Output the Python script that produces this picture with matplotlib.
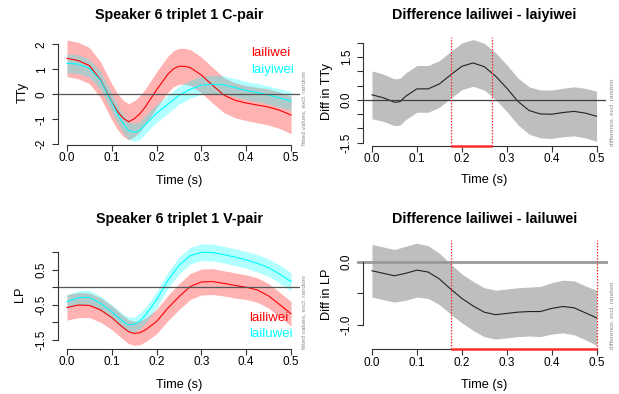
import numpy as np
import matplotlib
matplotlib.use("Agg")
import matplotlib.pyplot as plt

plt.rcParams['font.family'] = ['Liberation Sans', 'DejaVu Sans']
plt.rcParams['axes.unicode_minus'] = False

# ---------------- data ----------------
# Panel 1: TTy, C-pair
time_c = [0.0, 0.025, 0.05, 0.075, 0.1, 0.1125, 0.125, 0.1375, 0.15, 0.1625, 0.175,
          0.2, 0.225, 0.2375, 0.25, 0.2625, 0.275, 0.3, 0.325, 0.35, 0.375, 0.4,
          0.425, 0.45, 0.475, 0.5]
tty_lailiwei = [1.44, 1.35, 1.15, 0.58, -0.30, -0.68, -0.95, -1.10, -0.98, -0.78, -0.50,
                0.18, 0.80, 1.02, 1.12, 1.12, 1.07, 0.77, 0.36, -0.03, -0.24, -0.35,
                -0.43, -0.51, -0.64, -0.83]
tty_lailiwei_ci = [0.73, 0.73, 0.72, 0.72, 0.72, 0.72, 0.72, 0.72, 0.72, 0.72, 0.72,
                   0.72, 0.72, 0.72, 0.72, 0.72, 0.72, 0.72, 0.71, 0.70, 0.70, 0.70,
                   0.71, 0.72, 0.73, 0.75]
tty_laiyiwei = [1.24, 1.21, 1.04, 0.55, -0.33, -0.78, -1.16, -1.45, -1.52, -1.45, -1.20,
                -0.76, -0.40, -0.22, -0.04, 0.08, 0.20, 0.36, 0.40, 0.38, 0.27, 0.15,
                0.07, -0.03, -0.15, -0.27]
tty_laiyiwei_ci = [0.38, 0.37, 0.36, 0.36, 0.36, 0.36, 0.36, 0.36, 0.36, 0.36, 0.36,
                   0.36, 0.36, 0.36, 0.36, 0.36, 0.36, 0.36, 0.36, 0.36, 0.36, 0.36,
                   0.36, 0.36, 0.37, 0.38]

# Panel 2: difference lailiwei - laiyiwei (TTy)
time_cd = [0.0, 0.025, 0.05, 0.0625, 0.075, 0.1, 0.125, 0.15, 0.175, 0.2, 0.225, 0.25,
           0.275, 0.3, 0.325, 0.35, 0.375, 0.4, 0.425, 0.45, 0.475, 0.5]
tty_diff = [0.18, 0.08, -0.08, -0.06, 0.13, 0.39, 0.39, 0.56, 0.88, 1.18, 1.30, 1.17,
            0.84, 0.42, -0.05, -0.37, -0.49, -0.50, -0.44, -0.40, -0.46, -0.57]
tty_diff_ci = [0.84, 0.83, 0.82, 0.82, 0.82, 0.82, 0.82, 0.82, 0.82, 0.82, 0.82, 0.82,
               0.82, 0.82, 0.82, 0.83, 0.84, 0.85, 0.85, 0.86, 0.87, 0.88]
tty_sig = [0.177, 0.268]

# Panel 3: LP, V-pair
time_v = [0.0, 0.025, 0.05, 0.075, 0.1, 0.125, 0.1375, 0.15, 0.1625, 0.175, 0.2, 0.225,
          0.25, 0.275, 0.3, 0.325, 0.35, 0.375, 0.4, 0.425, 0.45, 0.475, 0.5]
lp_lailiwei = [-0.58, -0.51, -0.52, -0.65, -0.87, -1.15, -1.27, -1.32, -1.30, -1.22,
               -0.98, -0.60, -0.27, 0.02, 0.15, 0.16, 0.11, 0.05, 0.00, -0.08, -0.25,
               -0.50, -0.76]
lp_lailiwei_ci = [0.36, 0.36, 0.35, 0.35, 0.34, 0.34, 0.34, 0.34, 0.34, 0.34, 0.35,
                  0.36, 0.37, 0.37, 0.37, 0.37, 0.36, 0.36, 0.35, 0.35, 0.35, 0.35, 0.35]
lp_lailuwei = [-0.41, -0.30, -0.29, -0.46, -0.70, -0.98, -1.07, -1.06, -0.97, -0.80,
               -0.36, 0.19, 0.62, 0.90, 1.00, 0.99, 0.93, 0.86, 0.78, 0.68, 0.56,
               0.37, 0.16]
lp_lailuwei_ci = [0.20, 0.20, 0.20, 0.20, 0.20, 0.21, 0.21, 0.21, 0.22, 0.22, 0.23,
                  0.23, 0.24, 0.24, 0.24, 0.24, 0.24, 0.24, 0.24, 0.25, 0.25, 0.26, 0.26]

# Panel 4: difference lailiwei - lailuwei (LP)
time_vd = [0.0, 0.025, 0.05, 0.075, 0.1, 0.125, 0.15, 0.175, 0.2, 0.225, 0.25,
           0.275, 0.3, 0.325, 0.35, 0.375, 0.4, 0.425, 0.45, 0.475, 0.5]
lp_diff = [-0.14, -0.18, -0.22, -0.18, -0.13, -0.16, -0.27, -0.43, -0.58, -0.70, -0.80,
           -0.84, -0.82, -0.80, -0.79, -0.79, -0.74, -0.71, -0.73, -0.81, -0.89]
lp_diff_ci = [0.42, 0.42, 0.42, 0.43, 0.43, 0.42, 0.41, 0.40, 0.39, 0.39, 0.39,
              0.39, 0.39, 0.39, 0.39, 0.40, 0.41, 0.42, 0.43, 0.43, 0.44]
lp_sig = [0.176, 0.5]

xticks = [0.0, 0.1, 0.2, 0.3, 0.4, 0.5]

# ---------------- figure ----------------
W, H = 619, 394
fig = plt.figure(figsize=(W / 100, H / 100), dpi=100)

AX_COL = '#333333'
TICK_FS = 8.5
LAB_FS = 9.2
TITLE_FS = 10.3
LEG_FS = 9.5
NOTE_FS = 4.6


def make_ax(l, r, t, b, ylim):
    ax = fig.add_axes([l / W, 1 - b / H, (r - l) / W, (b - t) / H])
    ax.set_xlim(-0.02, 0.52)
    ax.set_ylim(*ylim)
    ax.patch.set_alpha(0)
    for s in ['top', 'right']:
        ax.spines[s].set_visible(False)
    for s in ['left', 'bottom']:
        ax.spines[s].set_color(AX_COL)
        ax.spines[s].set_linewidth(0.8)
    ax.tick_params(length=4.3, width=0.8, color=AX_COL, labelsize=TICK_FS,
                   labelcolor='black')
    ax.tick_params(axis='x', pad=1.0)
    ax.tick_params(axis='y', pad=3.2)
    ax.set_xticks(xticks)
    ax.set_xticklabels(['%.1f' % v for v in xticks])
    ax.spines['bottom'].set_bounds(0.0, 0.5)
    return ax


def set_y(ax, ticks, labels):
    ax.set_yticks(ticks)
    ax.set_yticklabels(labels)
    ax.spines['left'].set_bounds(min(ticks), max(ticks))
    for lab in ax.get_yticklabels():
        lab.set_rotation(90)
        lab.set_va('center')


def labels(ax, ylab, ylab_x, title, title_y, xlab_y, note, note_x_px):
    ax.set_ylabel(ylab, fontsize=LAB_FS, va='center')
    ax.yaxis.set_label_coords(ylab_x, 0.5)
    ax.set_xlabel('Time (s)', fontsize=LAB_FS, va='center')
    ax.xaxis.set_label_coords(0.5, xlab_y)
    ax.text(0.5, title_y, title, transform=ax.transAxes, ha='center', va='center',
            fontsize=TITLE_FS, fontweight='bold')
    bb = ax.get_position()
    fig.text(note_x_px / W, bb.y0, note, rotation=90, ha='center', va='bottom',
             fontsize=NOTE_FS, color='#8a8a8a')


def band(ax, tt, m, ci, color, alpha):
    tt = np.array(tt)
    m = np.array(m)
    ci = np.array(ci)
    ax.fill_between(tt, m - ci, m + ci, color=color, alpha=alpha, linewidth=0)
    ax.plot(tt, m, color=color, lw=0.8)


def diffband(ax, tt, m, ci):
    tt = np.array(tt)
    m = np.array(m)
    ci = np.array(ci)
    ax.fill_between(tt, m - ci, m + ci, color='#bebebe', linewidth=0)
    ax.plot(tt, m, color='#222222', lw=0.8)


def sig(ax, interval):
    for x in interval:
        ax.axvline(x, color='#ff2a2a', ls=(0, (1.2, 1.2)), lw=0.9, zorder=4)
    ax.plot(interval, [ax.get_ylim()[0]] * 2, color='#ff3030', lw=1.8,
            solid_capstyle='butt', clip_on=False, zorder=5)


# ---- Panel 1 ----
ax1 = make_ax(58, 300, 40, 145, (-2.028, 2.172))
set_y(ax1, [-2, -1, 0, 1, 2], ['-2', '-1', '0', '1', '2'])
band(ax1, time_c, tty_lailiwei, tty_lailiwei_ci, 'red', 0.3)
band(ax1, time_c, tty_laiyiwei, tty_laiyiwei_ci, 'cyan', 0.3)
ax1.axhline(0, color='#555555', lw=0.9)
ax1.text(250.7 / W, 1 - 53.3 / H, 'lailiwei', transform=fig.transFigure, color='red',
         fontsize=LEG_FS, ha='left', va='center')
ax1.text(250.7 / W, 1 - 70.0 / H, 'laiyiwei', transform=fig.transFigure, color='cyan',
         fontsize=LEG_FS, ha='left', va='center')
labels(ax1, 'TTy', -0.145, 'Speaker 6 triplet 1 C-pair', 1.238, -0.343,
       'fitted values, excl. random', 303.3)

# ---- Panel 2 ----
ax2 = make_ax(363, 605.5, 37, 145.7, (-1.604, 2.21))
set_y(ax2, [-1.5, -1.0, -0.5, 0.0, 0.5, 1.0, 1.5, 2.0],
      ['-1.5', '', '', '0.0', '', '', '1.5', ''])
diffband(ax2, time_cd, tty_diff, tty_diff_ci)
ax2.axhline(0, color='#404040', lw=0.9)
sig(ax2, tty_sig)
labels(ax2, 'Diff in TTy', -0.148, 'Difference lailiwei - laiyiwei', 1.202, -0.316,
       'difference, excl. random', 611.7)

# ---- Panel 3 ----
ax3 = make_ax(58, 300, 240, 348.7, (-1.757, 1.349))
set_y(ax3, [-1.5, -1.0, -0.5, 0.0, 0.5, 1.0],
      ['-1.5', '', '-0.5', '', '0.5', ''])
band(ax3, time_v, lp_lailiwei, lp_lailiwei_ci, 'red', 0.3)
band(ax3, time_v, lp_lailuwei, lp_lailuwei_ci, 'cyan', 0.3)
ax3.axhline(0, color='#555555', lw=0.9)
ax3.text(249.3 / W, 1 - 317.7 / H, 'lailiwei', transform=fig.transFigure, color='red',
         fontsize=LEG_FS, ha='left', va='center')
ax3.text(249.3 / W, 1 - 333.7 / H, 'lailuwei', transform=fig.transFigure, color='cyan',
         fontsize=LEG_FS, ha='left', va='center')
labels(ax3, 'LP', -0.157, 'Speaker 6 triplet 1 V-pair', 1.196, -0.331,
       'fitted values, excl. random', 303.3)

# ---- Panel 4 ----
ax4 = make_ax(363, 605.5, 240.3, 349.3, (-1.392, 0.346))
set_y(ax4, [-1.0, -0.5, 0.0], ['-1.0', '', '0.0'])
diffband(ax4, time_vd, lp_diff, lp_diff_ci)
ax4.axhline(0, xmin=-0.02, color='#999999', lw=2.0, clip_on=False)
sig(ax4, lp_sig)
labels(ax4, 'Diff in LP', -0.15, 'Difference lailiwei - lailuwei', 1.198, -0.325,
       'difference, excl. random', 611.7)

fig.savefig('out.png', dpi=100)
